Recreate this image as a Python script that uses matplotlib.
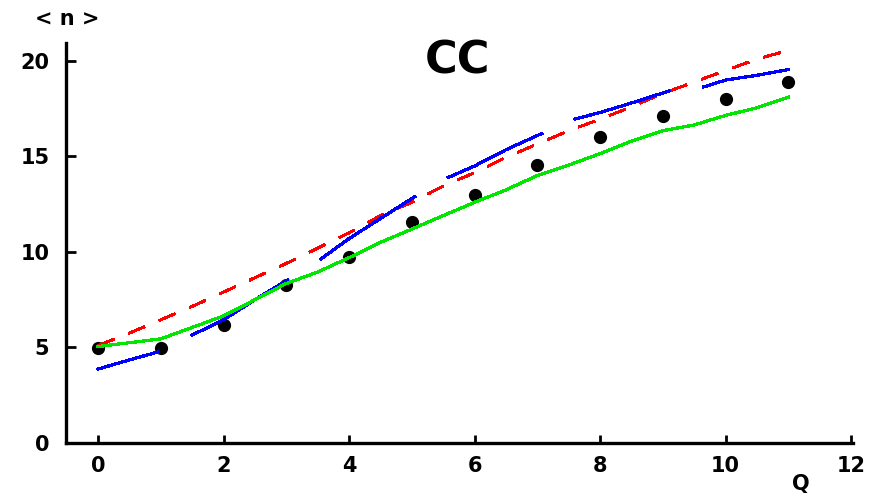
import numpy as np
import matplotlib
matplotlib.use("Agg")
import matplotlib.pyplot as plt

plt.rcParams['font.family'] = ['DejaVu Sans']
plt.rcParams['lines.scale_dashes'] = False

# ---- data ----
q_points = [0, 1, 2, 3, 4, 5, 6, 7, 8, 9, 10, 11]
n_points = [4.95, 4.95, 6.2, 8.25, 9.75, 11.55, 13.0, 14.55, 16.0, 17.1, 18.0, 18.9]

green_x = [0, 0.5, 1, 1.5, 2, 2.5, 3, 3.5, 4, 4.5, 5, 5.5, 6, 6.5, 7, 7.5,
           8, 8.5, 9, 9.5, 10, 10.5, 11]
green_y = [5.05, 5.25, 5.45, 6.05, 6.65, 7.5, 8.35, 8.95, 9.7, 10.5, 11.2, 11.9,
           12.6, 13.25, 14.0, 14.55, 15.15, 15.8, 16.35, 16.65, 17.15, 17.55, 18.1]

red_x = [0, 0.5, 1, 1.5, 2, 2.5, 3, 3.5, 4, 4.5, 5, 5.5, 6, 6.5, 7, 7.5,
         8, 8.5, 9, 9.5, 10, 10.5, 11]
red_y = [5.1, 5.75, 6.45, 7.15, 7.9, 8.65, 9.4, 10.2, 11.0, 11.9, 12.6, 13.45,
         14.15, 14.95, 15.65, 16.35, 16.95, 17.6, 18.3, 18.9, 19.5, 20.1, 20.55]

nan = float('nan')
blue_x = [0, 0.5, 0.95, 1.2, 1.5, 2.0, 2.5, 3.02, 3.3, 3.55, 4.0, 4.5, 5.05, 5.3,
          5.58, 6.0, 6.5, 7.07, 7.3, 7.6, 8.0, 8.5, 9.1, 9.4, 9.65, 10.0, 10.5, 11.0]
blue_y = [3.87, 4.35, 4.76, nan, 5.65, 6.45, 7.5, 8.53, nan, 9.63, 10.7, 11.75, 12.9, nan,
          13.9, 14.5, 15.35, 16.2, nan, 16.96, 17.3, 17.8, 18.43, nan, 18.64, 19.0, 19.25, 19.55]

x_ticks = [0, 2, 4, 6, 8, 10, 12]
y_ticks = [0, 5, 10, 15, 20]

# ---- figure ----
W, H = 876, 494
fig = plt.figure(figsize=(W / 100, H / 100), dpi=100)
ax = fig.add_axes([66 / W, 1 - 443 / H, (853 - 66) / W, (443 - 43) / H])

ax.plot(q_points, n_points, linestyle='none', marker='o', markersize=8.5,
        color='black', zorder=2)
ax.plot(red_x, red_y, color='#ff0000', linewidth=1.2, dashes=(12.5, 11.5),
        antialiased=False, zorder=3)
ax.plot(blue_x, blue_y, color='#0000ff', linewidth=1.6, antialiased=False, zorder=3)
ax.plot(green_x, green_y, color='#00e600', linewidth=1.6, antialiased=False, zorder=4)

ax.set_xlim(-0.51, 12.03)
ax.set_ylim(0, 20.94)
ax.set_xticks(x_ticks)
ax.set_yticks(y_ticks)

for s in ['top', 'right']:
    ax.spines[s].set_visible(False)
for s in ['left', 'bottom']:
    ax.spines[s].set_linewidth(2.4)
    ax.spines[s].set_color('black')

ax.tick_params(axis='both', direction='in', width=2.0, color='black',
               labelsize=15)
ax.tick_params(axis='y', length=7, pad=12)
ax.tick_params(axis='x', length=6, pad=9)
for lab in ax.get_xticklabels() + ax.get_yticklabels():
    lab.set_fontweight('bold')

ax.text(0.497, 0.955, 'CC', transform=ax.transAxes, ha='center', va='center',
        fontsize=32, fontweight='bold')
fig.text(67 / W, 1 - 19 / H, '< n >', ha='center', va='center',
         fontsize=15, fontweight='bold')
fig.text(801 / W, 1 - 484 / H, 'Q', ha='center', va='center',
         fontsize=15, fontweight='bold')

fig.savefig('out.png', dpi=100)
